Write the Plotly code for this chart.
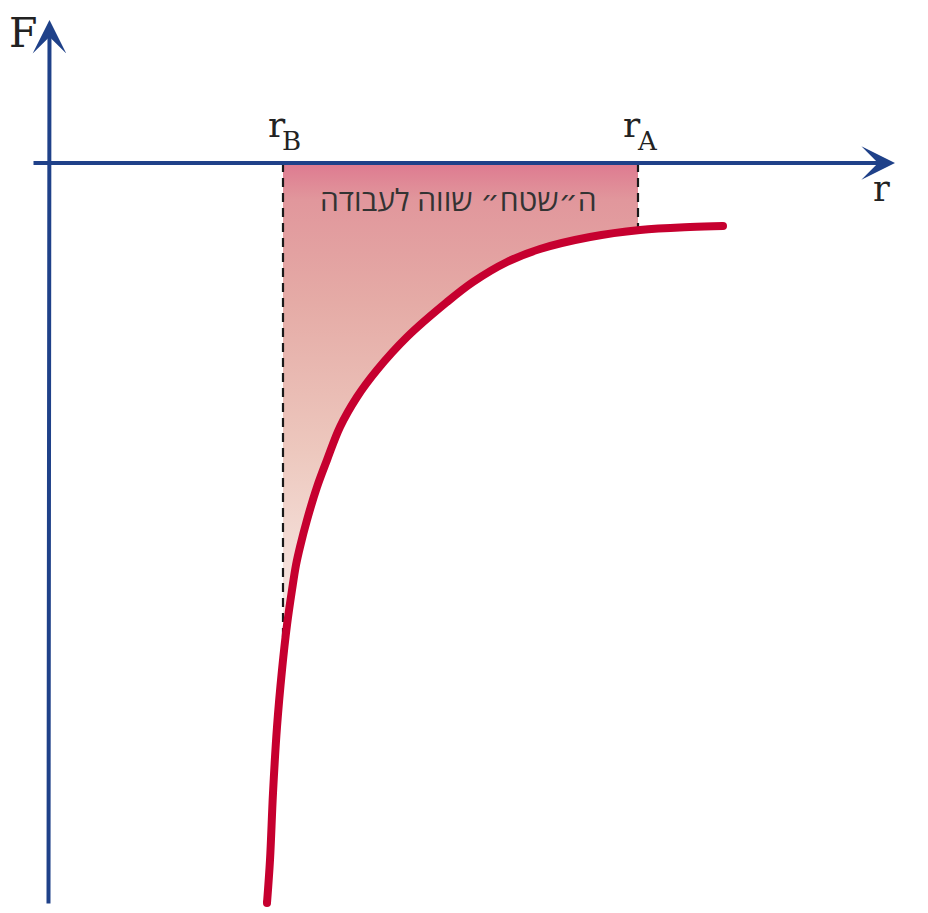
import numpy as np
import plotly.graph_objects as go

# curve F(r) (arbitrary units, origin at the axes crossing)
curve_r = [2.19, 2.22, 2.25, 2.29, 2.34, 2.39, 2.44, 2.48, 2.52, 2.59, 2.69, 2.79,
           2.92, 3.09, 3.29, 3.59, 3.99, 4.25, 4.59, 4.92, 5.42, 5.92, 6.42, 6.75]
curve_F = [-7.40, -6.97, -6.30, -5.64, -5.07, -4.62, -4.27, -4.02, -3.84, -3.57, -3.24, -2.97,
           -2.64, -2.34, -2.07, -1.74, -1.39, -1.19, -0.99, -0.86, -0.74, -0.67, -0.64, -0.63]

r_B = 2.35
r_A = 5.90
area_label = "ה״שטח״ שווה לעבודה"

AXIS = "#1f4189"
CURVE = "#c6002f"
SERIF = "DejaVu Serif, Liberation Serif, serif"

r_arr = np.array(curve_r)
F_arr = np.array(curve_F)
F_B = float(np.interp(r_B, r_arr, F_arr))
F_A = float(np.interp(r_A, r_arr, F_arr))

# area between the curve and the r axis, from r_B to r_A
inside = (r_arr > r_B) & (r_arr < r_A)
poly_r = [r_B, r_A, r_A] + list(r_arr[inside][::-1]) + [r_B, r_B]
poly_F = [0, 0, F_A] + list(F_arr[inside][::-1]) + [F_B, 0]

fig = go.Figure()

fig.add_trace(go.Scatter(
    x=poly_r, y=poly_F, mode="lines", fill="toself",
    line=dict(width=0, color="rgba(0,0,0,0)"),
    fillgradient=dict(
        type="vertical", start=F_B, stop=0,
        colorscale=[[0, "#faf0ed"], [0.12, "#f6e6e1"], [0.42, "#edc8be"],
                    [0.72, "#e5aba6"], [0.925, "#e1979c"], [1, "#de7a90"]],
    ),
    hoverinfo="skip",
))

# dashed guides at r_B and r_A
for rv, fv in [(r_B, F_B), (r_A, F_A)]:
    fig.add_trace(go.Scatter(
        x=[rv, rv], y=[0, fv], mode="lines",
        line=dict(color="#1a1a1a", width=2.2, dash="9px,6px"),
        hoverinfo="skip",
    ))

fig.add_trace(go.Scatter(
    x=curve_r, y=curve_F, mode="lines",
    line=dict(color=CURVE, width=8, shape="spline", smoothing=1.0),
    hoverinfo="skip",
))
# round ends of the curve
fig.add_trace(go.Scatter(
    x=[curve_r[0], curve_r[-1]], y=[curve_F[0], curve_F[-1]], mode="markers",
    marker=dict(color=CURVE, size=8, line=dict(width=0)),
    hoverinfo="skip",
))

# axes with arrowheads
arrow = dict(text="", showarrow=True, arrowhead=3, arrowsize=1.4, arrowwidth=4,
             arrowcolor=AXIS, axref="x", ayref="y", xref="x", yref="y", standoff=0)
fig.add_annotation(x=8.47, y=0, ax=-0.16, ay=0, **arrow)
fig.add_annotation(x=0.015, y=1.43, ax=0.005, ay=-7.42, **arrow)

labels = [
    ("F", -0.25, 1.30, 41),
    ("r", 8.33, -0.26, 35),
    ("r", 2.29, 0.385, 36),
    ("B", 2.435, 0.22, 26),
    ("r", 5.84, 0.385, 36),
    ("A", 5.99, 0.22, 26),
]
for txt, x, y, size in labels:
    fig.add_annotation(x=x, y=y, text=txt, showarrow=False, xanchor="center", yanchor="middle",
                       font=dict(family=SERIF, size=size, color="#222222"))

fig.add_annotation(x=4.10, y=-0.36, text=area_label, showarrow=False,
                   xanchor="center", yanchor="middle",
                   font=dict(family="Open Sans, Noto Sans, DejaVu Sans, sans-serif", size=30, color="#333333"))

# ranges offset by the page's 8px body margin
fig.update_layout(
    width=928, height=913, autosize=False,
    margin=dict(l=0, r=0, t=0, b=0),
    paper_bgcolor="white", plot_bgcolor="white",
    showlegend=False,
    xaxis=dict(range=[-0.40, 8.88], visible=False, fixedrange=True),
    yaxis=dict(range=[-7.58, 1.55], visible=False, fixedrange=True),
)

fig.write_html("out.html")
